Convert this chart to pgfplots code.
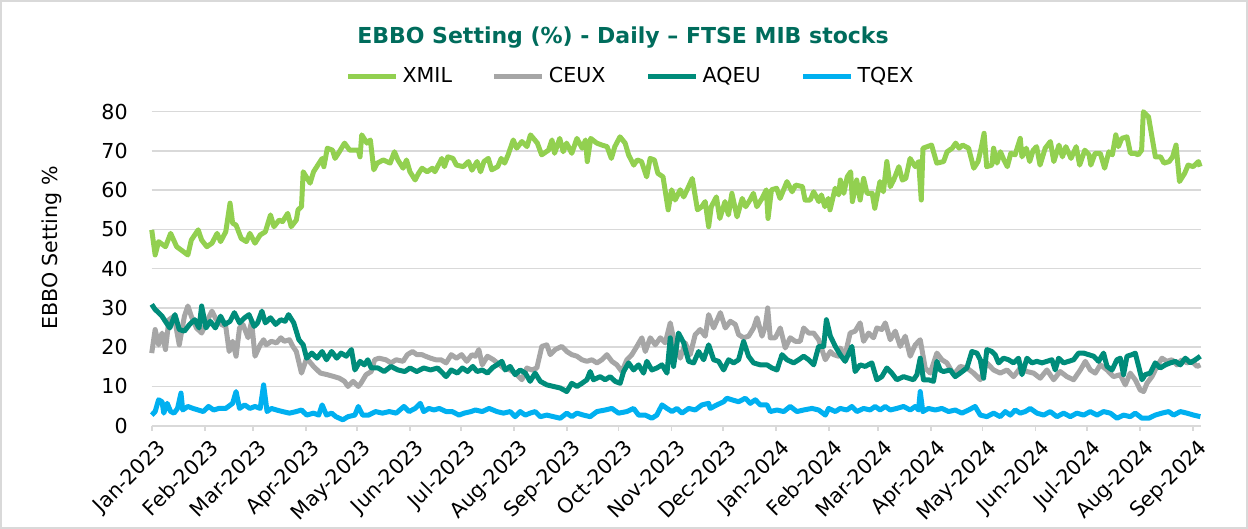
\documentclass[border=0pt]{standalone}
\usepackage{fontspec}
\setmainfont{DejaVu Sans}
\usepackage{pgfplots}
\pgfplotsset{compat=1.18}

\definecolor{xmilc}{RGB}{146,208,80}
\definecolor{ceuxc}{RGB}{166,166,166}
\definecolor{aqeuc}{RGB}{0,140,122}
\definecolor{tqexc}{RGB}{0,176,240}
\definecolor{titlec}{RGB}{0,108,92}
\definecolor{gridc}{RGB}{217,217,217}

\begin{document}
\begin{tikzpicture}
\useasboundingbox (0,0) rectangle (624pt,264.5pt);
\draw[gridc, line width=0.8pt] (0.5pt,0.5pt) rectangle (623.5pt,264pt);
\node[font=\fontsize{11}{13}\selectfont\bfseries, text=titlec] at (311.5pt,245.5pt)
  {EBBO Setting (\%) - Daily – FTSE MIB stocks};
\node[font=\fontsize{10.3}{12}\selectfont, rotate=90] at (26pt,140.5pt) {EBBO Setting \%};

\begin{axis}[
    at={(75.85pt,51.65pt)}, anchor=south west,
    scale only axis,
    width=524.65pt, height=157pt,
    xmin=0.99, xmax=610.5,
    ymin=0, ymax=80,
    ytick={0,10,...,80},
    xtick={0.99,31.8,59.6,90.4,120.2,150.9,180.7,211.5,242.3,272.1,302.9,332.7,363.5,394.2,423.0,453.8,483.6,514.4,544.2,575.0,605.8},
    xticklabels={Jan-2023,Feb-2023,Mar-2023,Apr-2023,May-2023,Jun-2023,Jul-2023,Aug-2023,Sep-2023,Oct-2023,Nov-2023,Dec-2023,Jan-2024,Feb-2024,Mar-2024,Apr-2024,May-2024,Jun-2024,Jul-2024,Aug-2024,Sep-2024},
    axis x line*=bottom, axis y line*=left,
    x axis line style={gridc, line width=0.9pt, -},
    y axis line style={draw=none},
    ytick style={draw=none},
    xtick style={gridc, line width=0.9pt},
    tick align=outside, major tick length=2.5pt,
    ymajorgrids=true,
    grid style={gridc, line width=0.75pt},
    /pgf/number format/assume math mode=true,
    tick label style={font=\fontsize{10.3}{12}\selectfont},
    yticklabel style={anchor=east, xshift=-6pt},
    xticklabel style={rotate=45, anchor=north east, inner sep=1pt, yshift=-3pt},
    clip=false,
    legend columns=4,
    legend style={draw=none, fill=none, at={(0.5,1)}, anchor=center,
        xshift=-22.4pt, yshift=17.85pt,
        font=\fontsize{10.3}{12}\selectfont,
        /tikz/every even column/.append style={column sep=18pt}},
    legend image code/.code={\draw[#1] (0pt,0pt) -- (24pt,0pt);},
    every axis plot/.append style={line width=2.5pt, line join=round, no markers},
]
\addplot[xmilc] coordinates {
(1,49.9)(3,43.5)(5,46.9)(9,45.6)(12,49.0)(15.5,45.6)(18,44.8)(22,43.5)(24,47.3)(28,49.9)
(30,47.3)(33,45.6)(36,46.5)(39,49.0)(41,46.9)(44,49.4)(46.5,56.7)(48,51.6)(50,51.1)(53,47.7)
(56,46.9)(58,49.0)(61,46.5)(64,48.6)(67,49.4)(70,53.7)(72,50.7)(75,52.4)(77,52.0)(80,54.1)
(82,50.7)(85,52.4)(86,55.0)(88,55.8)(89,64.7)(93,61.8)(95,64.7)(100,68.1)(101,66.0)(103,70.7)
(106,70.2)(107.5,68.1)(110,69.8)(113,72.0)(116,70.2)(121,70.2)(122,68.5)(123,74.1)(126,72.0)(128,72.8)
(130,65.2)(132,66.9)(135.5,67.7)(139.5,66.9)(142,69.8)(144,67.7)(147,65.6)(149,67.7)(151,64.7)(154,62.6)
(156,64.3)(158,65.6)(161,64.7)(164,65.6)(165.5,64.7)(169.5,68.1)(171,66.0)(173,68.5)(176,68.1)(178,66.4)
(182,66.0)(185,67.3)(187,65.1)(190,67.3)(192,64.7)(194,67.3)(196.5,68.1)(198.5,65.2)(202,66.0)(204,68.1)
(206,66.9)(208,69.0)(211,72.8)(213,70.7)(216,72.4)(219,71.1)(221,74.1)(225,72.0)(227.5,69.0)(231.5,70.2)
(233.5,72.8)(235,69.4)(238,73.2)(240,69.8)(242,72.0)(245,69.4)(248,73.2)(251,70.7)(253,72.8)(254,67.3)
(256,73.2)(259.5,72.0)(262.5,71.5)(265.5,71.1)(268,68.1)(270,71.1)(273,73.6)(276,72.0)(278,69.0)(281,66.4)
(283,67.7)(285.5,67.3)(288.5,63.4)(290.5,68.1)(293,67.7)(295,64.3)(298,63.4)(301,55.0)(303,60.1)(305,57.5)
(308,60.1)(310,58.3)(312,60.1)(315,63.0)(318,55.0)(320.5,55.8)(322.5,57.1)(324.5,50.7)(326,55.8)(329,58.3)
(331,52.8)(334,57.1)(336,53.7)(338,59.2)(341,53.2)(344,57.9)(346,55.8)(348.5,57.5)(350.5,59.2)(352.5,55.8)
(355.5,57.9)(358,60.1)(359,52.8)(361,60.1)(364,60.5)(366,57.9)(370,62.2)(373,59.6)(375,61.3)(379,60.9)
(380.5,57.5)(383.5,57.5)(385.5,59.6)(388.5,57.1)(390,58.8)(392,55.8)(394,57.9)(395,55.0)(398,60.5)(400,58.8)
(401,62.6)(403,59.2)(405,63.4)(407,64.7)(408,57.1)(410.5,62.6)(412.5,57.5)(414.5,63.0)(416.5,59.2)(419.5,59.2)
(421,55.4)(424,62.2)(426,59.6)(428,67.3)(430,60.9)(432,62.6)(435,66.0)(437,62.6)(439,63.0)(441.5,68.1)
(444.5,66.0)(446.5,67.3)(448,57.5)(449,70.7)(454,71.5)(457,66.9)(461,67.3)(463,69.8)(466,70.7)(468,72.0)
(470,70.7)(472,71.5)(475.5,70.7)(478.5,65.6)(481,67.3)(483,71.1)(484.5,74.5)(486,66.0)(489,66.4)(490,70.7)
(492,66.9)(494,69.8)(496,67.7)(498,66.0)(500,69.4)(502.5,69.0)(505.5,73.2)(506.5,68.5)(509,70.7)(511,67.3)
(513,70.2)(515,71.1)(517,66.4)(520,70.7)(523,72.4)(525,67.3)(528,71.5)(530,68.5)(532,71.1)(535,68.1)
(538,71.1)(540,66.4)(543,70.2)(545.5,69.0)(546.5,66.4)(549,69.4)(552,69.4)(554.5,65.6)(557,69.8)(559,69.0)
(561,74.1)(562.5,71.1)(564.5,73.2)(567.5,73.6)(569.5,69.4)(572,69.4)(574,69.0)(576,70.2)(577,80.0)(580,78.7)
(582,73.6)(584,68.5)(587,68.5)(589,66.9)(592,67.3)(594,68.5)(596,71.5)(598,62.2)(601,64.3)(603,66.4)
(606,66.0)(609,67.3)(610,66.0)
};
\addlegendentry{XMIL}
\addplot[ceuxc] coordinates {
(1,18.5)(3,24.5)(5,20.6)(7,23.6)(9,19.4)(11,27.0)(14,27.9)(17,20.6)(20,27.9)(22,30.5)
(24,27.9)(27,24.9)(30,23.6)(33,26.6)(36,29.2)(38.5,27.0)(41.5,25.8)(44,25.3)(46,18.9)(48,21.5)
(50,17.7)(52,24.9)(54,25.8)(57,22.4)(59,26.6)(61,17.7)(64,20.6)(66,21.9)(67.5,20.6)(70.5,21.5)
(73.5,21.1)(76,22.4)(78,21.5)(81,21.9)(83,20.2)(85,18.9)(88,13.4)(91,17.2)(95,15.1)(99,13.4)
(103,13.0)(107,12.5)(110,12.1)(113,11.3)(115,10.0)(118,11.3)(121,10.0)(122.5,10.8)(125.5,13.0)(128.5,13.8)
(130.5,16.8)(133,17.2)(137,16.8)(140,16.0)(143,16.8)(147,16.4)(149.5,18.1)(152.5,18.9)(155,18.1)(158,18.1)
(160,17.7)(163,17.2)(166,16.8)(169,16.8)(172,16.0)(175,18.1)(178,17.2)(181,18.1)(184,16.4)(187,18.1)
(189,17.7)(191,19.4)(193,15.5)(196,17.7)(199.5,16.8)(205.3,14.7)(209.2,14.2)(213.1,13.0)(216,11.7)(218.9,14.7)
(221.8,14.2)(224.7,14.7)(227.6,20.2)(230.5,20.6)(232.5,18.1)(235.4,19.4)(239.2,20.2)(242.1,18.9)(245,18.1)(248,17.7)
(250.9,16.8)(253.8,16.4)(256.7,16.8)(259.6,16.0)(262.5,16.8)(265.4,18.1)(268.3,16.4)(271.2,15.5)(274.1,13.8)(277,16.8)
(279.9,18.1)(282.8,20.2)(285.7,22.4)(287.7,18.9)(290.6,22.4)(293.5,20.6)(296.4,22.4)(299.3,21.1)(302.2,26.2)(305.1,20.2)
(308,17.2)(310.9,21.1)(313.8,18.1)(316.7,23.2)(319.6,24.5)(322.5,22.8)(324.5,28.3)(327.4,24.9)(331.3,28.8)(334.2,24.9)
(337.1,26.6)(340,25.8)(341.9,23.2)(344.8,22.4)(347.7,22.8)(350.6,24.9)(352.6,27.5)(355.5,22.8)(357.4,25.3)(358.8,30.0)
(360.3,22.4)(363.2,22.4)(366.1,24.9)(369,19.8)(371.9,22.4)(374.8,21.5)(377.7,21.5)(379.7,24.9)(382.6,23.6)(385.5,23.6)
(388.4,21.9)(392.3,16.8)(395.2,18.9)(397.1,18.1)(400,17.7)(400.9,19.8)(403.8,18.1)(406.7,23.6)(409.6,24.1)(412.5,26.2)
(414.5,21.5)(417.4,23.6)(420.3,22.4)(422.2,24.9)(425.1,24.5)(427.1,26.2)(430,21.9)(432.9,24.1)(435.8,20.2)(438.7,22.8)
(441.6,17.7)(444.5,20.6)(447.4,21.9)(450.3,14.7)(453.2,13.4)(457.1,18.5)(460,16.8)(462.9,16.0)(466.8,13.0)(470.6,15.1)
(474.5,14.7)(478.4,13.4)(482.3,11.7)(486.1,16.0)(490,14.2)(493.9,13.4)(497.8,14.2)(501.6,12.5)(505.5,14.7)(509.4,13.8)
(513.2,13.4)(517.1,12.1)(521,14.2)(524.9,11.7)(528.7,13.8)(532.6,12.5)(536.5,11.7)(540.4,14.2)(543.3,16.4)(546.2,14.2)
(549.1,13.4)(552,15.5)(555.9,14.2)(559.7,12.5)(563.6,13.0)(566.5,10.4)(569.4,13.4)(572.3,11.7)(575.2,9.1)(577.2,8.7)
(579.1,10.8)(582,12.5)(584.9,15.1)(587.8,17.2)(590.7,16.4)(593.6,16.8)(596.5,15.5)(599.4,16.8)(602.3,16.0)(605.3,16.4)
(608.2,15.1)(610.1,15.5)
};
\addlegendentry{CEUX}
\addplot[aqeuc] coordinates {
(1,30.9)(3,29.6)(5,28.8)(7,27.9)(9.5,26.2)(11.5,24.9)(14.5,28.3)(17,24.5)(20,24.1)(23,25.8)
(26,27.0)(28.5,24.9)(30,30.5)(32.5,24.9)(35,26.6)(38,24.9)(41,27.9)(43.5,25.8)(46.5,26.6)(49,28.8)
(52,26.2)(55,27.5)(57.5,28.3)(60.5,25.3)(62.5,26.2)(65,29.2)(67,26.2)(70,27.5)(73,25.8)(76,27.0)
(78.5,26.6)(80.5,28.3)(83.5,26.2)(86.5,21.9)(89,20.6)(91,17.2)(94,18.5)(97,17.2)(100,18.9)(102.5,16.8)
(105.5,18.9)(108.5,17.2)(111,18.5)(114,17.7)(117,19.4)(119,14.2)(122,16.4)(124.5,15.5)(126.5,16.8)(128.5,14.7)
(132.5,14.7)(136,13.8)(140,15.1)(144,14.2)(148,13.8)(151,14.7)(155,13.8)(159,14.7)(163,14.2)(167,14.7)
(170,13.4)(172,12.5)(175,14.2)(178.5,13.4)(181.5,14.7)(184.5,13.8)(187.5,15.1)(190,13.8)(193,14.2)(196,13.4)
(199,14.8)(201.5,15.5)(204.4,16.4)(206.3,14.2)(209.2,15.1)(212.1,13.0)(215,14.2)(218,13.4)(220.8,11.3)(223.7,13.4)
(226.7,11.3)(230.5,10.4)(234.4,10.0)(238.3,9.6)(242.1,8.7)(245,10.8)(248,10.0)(250.9,10.8)(253.8,11.7)(255.7,13.8)
(257.6,11.7)(261.5,12.5)(264.4,11.7)(267.3,12.5)(270.2,11.3)(273.1,10.8)(275.1,13.8)(278,16.0)(280.9,14.2)(283.8,15.5)
(286.7,13.4)(288.6,16.4)(291.5,14.2)(294.4,14.7)(297.4,15.5)(300.3,13.4)(302.2,22.4)(304.1,15.1)(307,23.6)(310,21.1)
(312.9,16.4)(315.8,16.0)(318.7,18.9)(321.6,16.8)(324.5,20.6)(327.4,16.8)(330.3,16.4)(333.2,14.2)(336.1,16.8)(339,16.0)
(341.9,16.8)(344.8,21.5)(347.7,17.7)(350.6,16.0)(354.5,15.5)(358.4,15.5)(361.3,14.7)(364.2,14.2)(367.1,18.1)(370,16.8)
(373.9,16.0)(376.8,16.8)(379.7,17.7)(382.6,16.8)(385.5,15.5)(388.4,20.2)(391.3,20.2)(392.9,27.0)(395.2,22.8)(398.1,20.2)
(400.9,18.1)(403.8,16.4)(407.7,20.2)(409.6,13.8)(412.5,15.5)(415.4,15.1)(419.3,16.0)(422.2,11.7)(425.1,12.5)(428,14.7)
(430.9,13.4)(433.8,11.7)(437.7,12.5)(440.6,12.1)(443.5,11.7)(445.5,13.0)(447.4,17.2)(449.3,11.7)(452.2,11.7)(455.1,11.3)
(457.1,16.4)(459,14.2)(460.9,13.8)(464.8,14.2)(467.7,12.5)(470.6,13.4)(474.5,14.7)(477.4,18.9)(480.3,18.5)(482.3,16.8)
(484.2,12.1)(486.1,19.4)(489,18.9)(490.9,18.1)(492.9,16.0)(495.8,17.2)(498.7,16.8)(501.6,16.0)(504.5,17.2)(506.5,13.0)
(509.4,17.2)(512.3,16.0)(515.2,16.4)(518.1,16.0)(521,16.4)(523.9,16.8)(525.8,14.2)(527.8,17.2)(530.7,16.0)(533.6,16.4)
(536.5,16.8)(539.4,18.5)(542.3,18.5)(545.2,18.1)(548.1,17.7)(551,16.4)(553.9,18.5)(555.9,15.1)(558.8,14.2)(561.7,16.8)
(563.6,17.2)(565.5,13.0)(567.5,17.7)(570.4,18.1)(572.3,18.5)(574.3,15.1)(576.2,11.7)(578.1,13.0)(581,13.4)(583.9,16.0)
(586.8,14.7)(589.8,15.5)(592.7,16.0)(595.6,16.4)(598.5,15.5)(601.4,17.2)(604.3,16.0)(607.2,16.8)(610.1,17.7)
};
\addlegendentry{AQEU}
\addplot[tqexc] coordinates {
(1,2.7)(3,3.6)(5,6.6)(7,6.1)(8,3.2)(10,5.7)(12,3.6)(14,3.2)(16,4.4)(18,8.3)
(19,4.0)(22,4.9)(25,4.4)(28,4.0)(31,3.6)(34,4.9)(37,4.0)(40,4.4)(44,4.4)(48,5.7)
(50,8.7)(52,4.4)(55,5.3)(58,4.4)(61,4.9)(64,4.4)(66,10.4)(68,3.6)(70.5,4.4)(73.5,4.0)
(77,3.6)(81,3.2)(85,3.6)(88,4.0)(91,2.7)(95,3.2)(98,2.7)(100,5.3)(102.5,2.7)(105.5,3.2)
(108,2.3)(112,1.5)(115,2.3)(119,2.7)(121,4.9)(123.5,2.7)(127,2.7)(131,3.6)(135,3.2)(139,3.6)
(143,3.2)(147.5,4.9)(150.5,3.6)(154,4.4)(157,5.7)(159,3.6)(162,4.4)(165,4.0)(168,4.4)(172,3.6)
(175.5,3.6)(179.5,2.7)(182.5,3.2)(186.5,3.6)(189,4.0)(193,3.6)(197,4.4)(201.5,3.6)(205.3,3.2)(209.2,3.6)
(212.1,2.3)(215,3.6)(218,2.7)(220.8,3.2)(223.7,3.6)(226.7,2.3)(230.5,2.7)(234.4,2.3)(238.3,1.9)(242.1,3.2)
(245,2.3)(248,3.2)(251.8,2.7)(255.7,2.3)(259.6,3.6)(264.4,4.0)(268.3,4.4)(272.2,3.2)(277,3.6)(280.9,4.4)
(283.8,2.7)(287.7,2.7)(291.5,1.9)(294.4,2.7)(297.4,5.3)(300.3,4.4)(303.2,3.6)(306.1,4.4)(309,3.2)(312.9,4.4)
(316.7,4.0)(320.6,5.3)(324.5,5.7)(325.4,4.4)(329.3,5.3)(333.2,6.1)(335.1,7.0)(338,6.6)(341.9,6.1)(345.8,7.0)
(348.7,5.7)(351.6,6.6)(354.5,5.3)(358.4,5.3)(360.3,3.6)(364.2,4.0)(368.1,3.6)(371.9,4.9)(375.8,3.6)(379.7,4.0)
(384.5,4.4)(388.4,4.0)(392.3,2.7)(394.2,4.4)(398.1,3.6)(400.9,4.4)(404.8,4.0)(407.7,4.9)(410.6,3.6)(414.5,4.4)
(418.3,4.0)(421.2,4.9)(424.1,4.0)(427.1,4.9)(430,4.0)(433.8,4.4)(437.7,4.9)(441.6,4.0)(444.5,4.9)(446.4,4.0)
(447.4,8.7)(448.9,3.6)(452.2,4.4)(456.1,4.0)(460,4.4)(463.9,3.6)(467.7,4.0)(471.6,3.2)(475.5,4.0)(479.3,4.9)
(482.3,2.7)(486.1,2.3)(490,3.2)(493.9,2.3)(496.8,3.6)(499.7,2.7)(502.6,4.0)(505.5,3.2)(508.4,3.6)(511.3,4.4)
(515.2,3.2)(519.1,2.7)(522.9,3.6)(526.8,2.3)(530.7,3.2)(534.6,2.3)(538.4,3.2)(542.3,2.7)(546.2,3.6)(550.1,2.7)
(553.9,3.6)(557.8,3.2)(561.7,1.9)(565.5,2.7)(569.4,2.3)(572.3,3.2)(576.2,1.9)(580.1,1.9)(583.9,2.7)(587.8,3.2)
(591.7,3.6)(594.6,2.7)(598.5,3.6)(602.3,3.2)(606.2,2.7)(610.1,2.3)
};
\addlegendentry{TQEX}
\end{axis}
\end{tikzpicture}
\end{document}
